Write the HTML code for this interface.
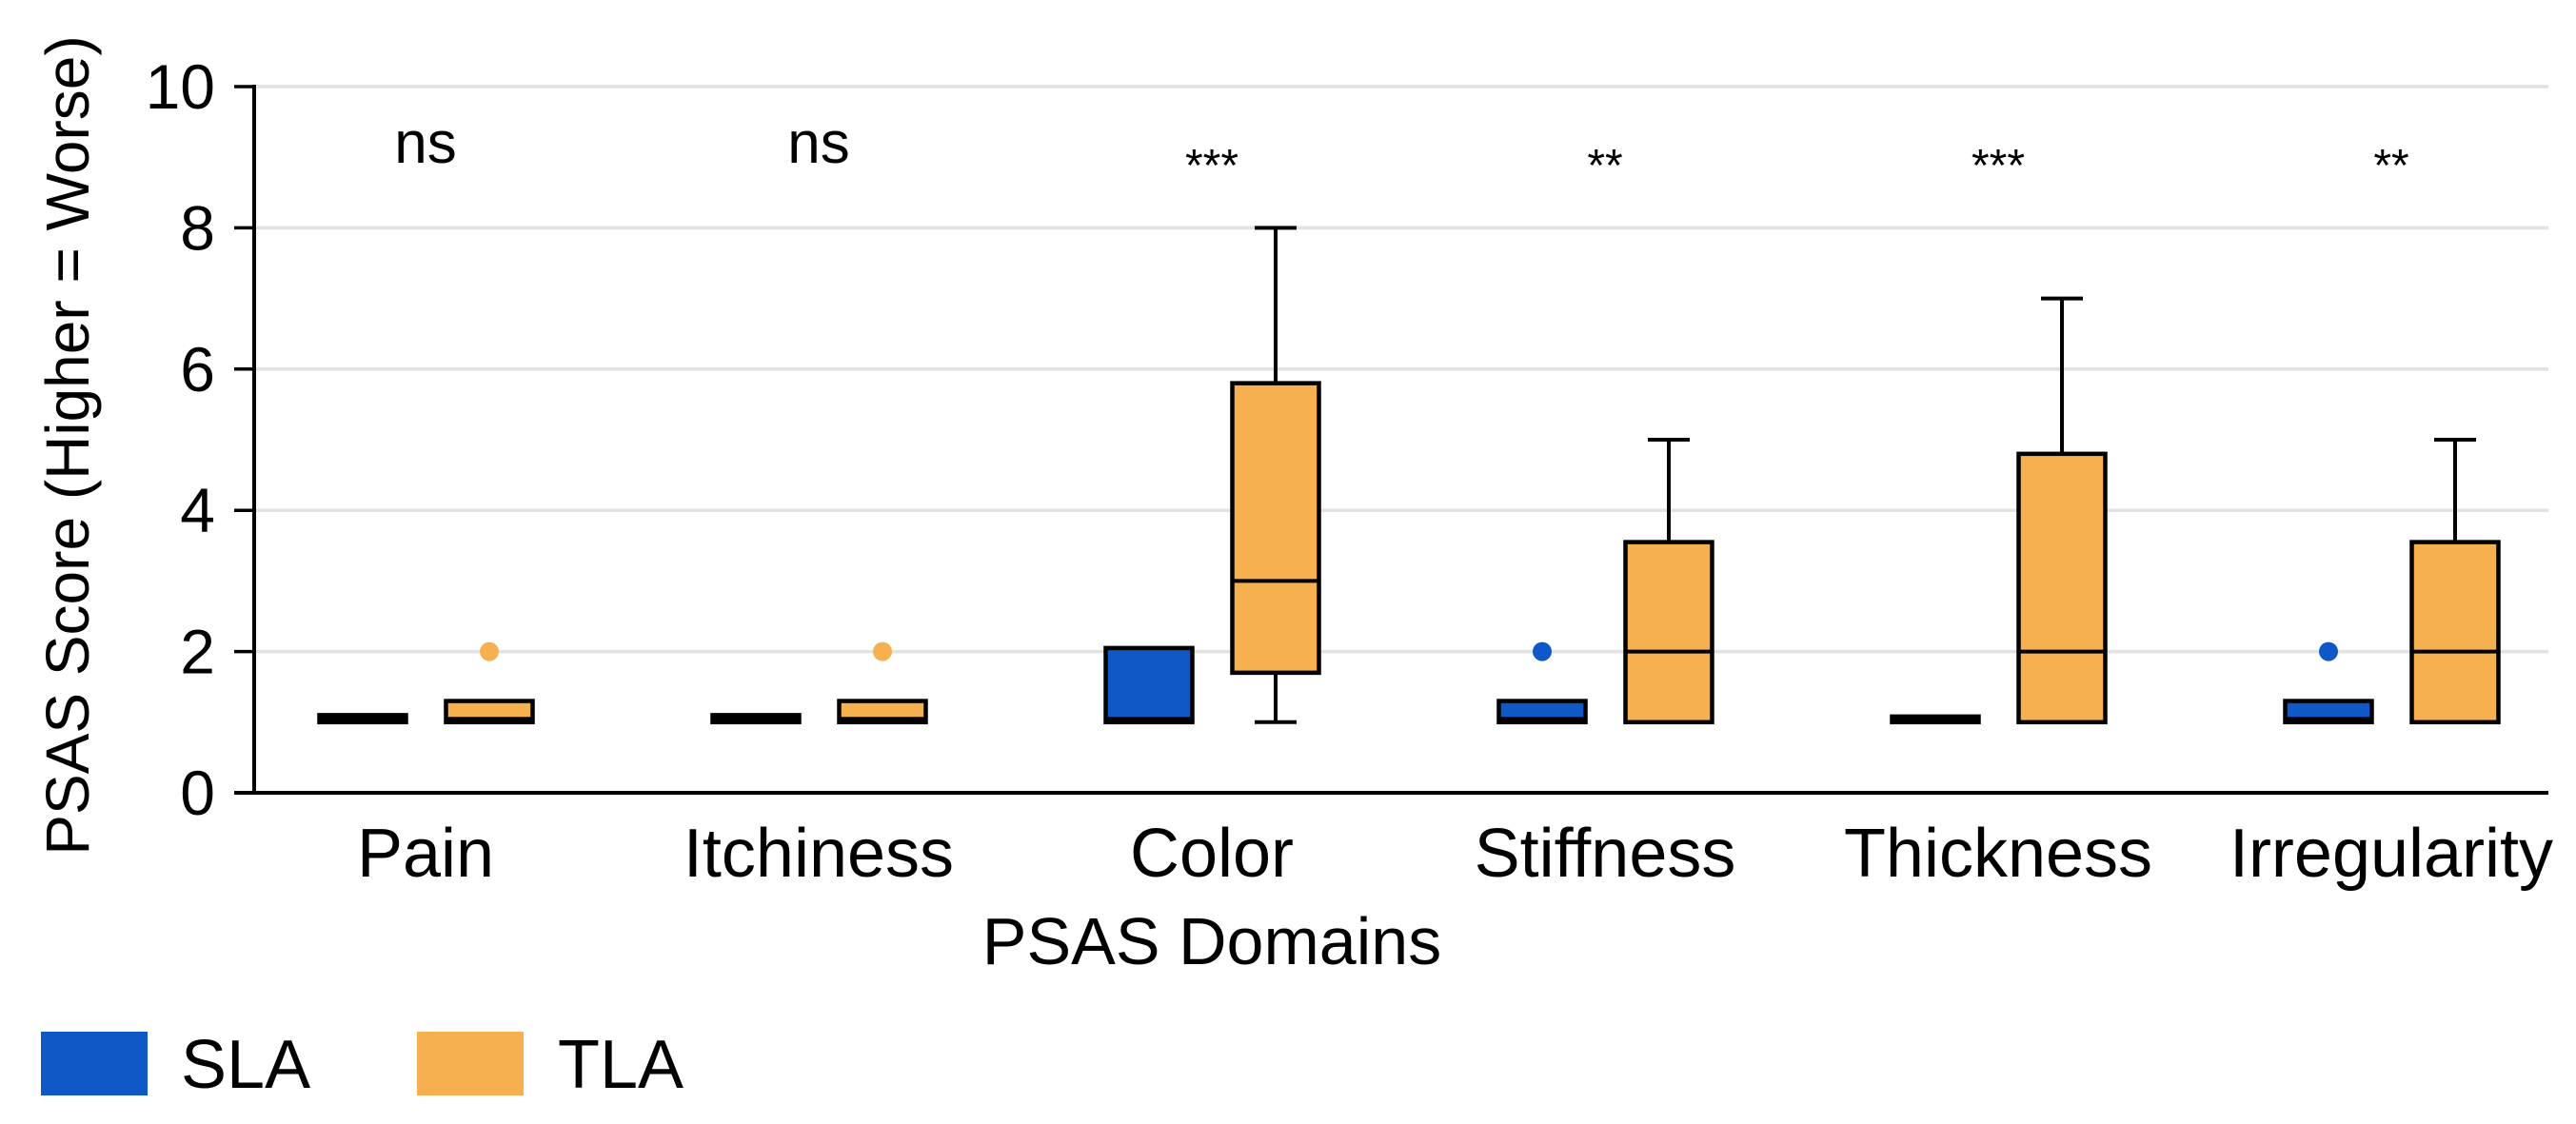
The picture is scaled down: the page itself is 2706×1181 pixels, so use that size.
<!DOCTYPE html>
<html><head><meta charset="utf-8"><style>
html,body{margin:0;padding:0;background:#fff;}
svg text{font-family:"Liberation Sans",sans-serif;fill:#000;}
</style></head><body>
<svg id="chart" width="2706" height="1176" viewBox="0 0 2706 1176" xmlns="http://www.w3.org/2000/svg">
<g id="grid"></g>
<g id="yaxis"></g>
<g id="boxes"></g>
<g id="xaxis"></g>
<text x="0" y="0" transform="translate(93,468) rotate(-90)" text-anchor="middle" font-size="64">PSAS Score (Higher = Worse)</text>
<text x="1273" y="1013" text-anchor="middle" font-size="70">PSAS Domains</text>
<g>
<rect x="43" y="1084" width="112" height="67" fill="#0e58c8"/>
<text x="190" y="1143" font-size="72">SLA</text>
<rect x="438" y="1084" width="112" height="67" fill="#f6b04f"/>
<text x="586" y="1143" font-size="72">TLA</text>
</g>
</svg>
<script>
const categories = ["Pain","Itchiness","Color","Stiffness","Thickness","Irregularity"];
const significance = ["ns","ns","***","**","***","**"];
const slaQ1 = [1,1,1,1,1,1];
const slaMed = [1,1,1,1,1,1];
const slaQ3 = [1.1,1.1,2.05,1.3,1.08,1.3];
const slaLow = [1,1,1,1,1,1];
const slaHigh = [1.1,1.1,2.05,1.3,1.08,1.3];
const slaOutliers = [[],[],[],[2],[],[2]];
const tlaQ1 = [1,1,1.7,1,1,1];
const tlaMed = [1,1,3,2,2,2];
const tlaQ3 = [1.3,1.3,5.8,3.55,4.8,3.55];
const tlaLow = [1,1,1,1,1,1];
const tlaHigh = [1.3,1.3,8,5,7,5];
const tlaOutliers = [[2],[2],[],[],[],[]];
const yTicks = [0,2,4,6,8,10];

const NS="http://www.w3.org/2000/svg";
const y=v=>833-v*74.2;
const xc=i=>447+i*413;
function mk(parent,tag,attrs){const e=document.createElementNS(NS,tag);for(const k in attrs)e.setAttribute(k,attrs[k]);parent.appendChild(e);return e;}
const grid=document.getElementById('grid'),ya=document.getElementById('yaxis'),bx=document.getElementById('boxes'),xa=document.getElementById('xaxis');
yTicks.forEach(t=>{
  if(t>0){const g=mk(grid,'line',{x1:267,x2:2677,y1:y(t),y2:y(t),stroke:'#e2e2e2','stroke-width':3.5});
  
  }
  const tk=mk(ya,'line',{x1:246,x2:267,y1:y(t),y2:y(t),stroke:'#000','stroke-width':3.5});
  
  
  const tl=mk(ya,'text',{x:226,y:y(t)+23,'text-anchor':'end','font-size':66});
  tl.textContent=t;
  
  
});
const yl=mk(ya,'line',{x1:267,x2:267,y1:y(10)-2,y2:y(0)+2,stroke:'#000','stroke-width':4});


const xl=mk(xa,'line',{x1:246,x2:2677,y1:y(0),y2:y(0),stroke:'#000','stroke-width':4});



function drawBox(cx,q1,med,q3,lo,hi,outs,color,name){
  const w=91;
  const g=mk(bx,'g',{});
  
  
  if(hi>q3){mk(g,'line',{x1:cx,x2:cx,y1:y(hi),y2:y(q3),stroke:'#000','stroke-width':4});
    mk(g,'line',{x1:cx-22,x2:cx+22,y1:y(hi),y2:y(hi),stroke:'#000','stroke-width':4});}
  if(lo<q1){mk(g,'line',{x1:cx,x2:cx,y1:y(q1),y2:y(lo),stroke:'#000','stroke-width':4});
    mk(g,'line',{x1:cx-22,x2:cx+22,y1:y(lo),y2:y(lo),stroke:'#000','stroke-width':4});}
  const h=y(q1)-y(q3);
  mk(g,'rect',{x:cx-w/2,y:y(q3),width:w,height:Math.max(h,1),fill:h<10?'#000':color,stroke:'#000','stroke-width':4.5});
  mk(g,'line',{x1:cx-w/2,x2:cx+w/2,y1:y(med)-(med===q1?2:0),y2:y(med)-(med===q1?2:0),stroke:'#000','stroke-width':med===q1?7:4});
  outs.forEach(o=>mk(g,'circle',{cx:cx,cy:y(o),r:10,fill:color}));
}
categories.forEach((c,i)=>{
  drawBox(xc(i)-66,slaQ1[i],slaMed[i],slaQ3[i],slaLow[i],slaHigh[i],slaOutliers[i],'#0e58c8','box-sla-'+c.toLowerCase());
  drawBox(xc(i)+67,tlaQ1[i],tlaMed[i],tlaQ3[i],tlaLow[i],tlaHigh[i],tlaOutliers[i],'#f6b04f','box-tla-'+c.toLowerCase());
  const lab=mk(xa,'text',{x:xc(i),y:921,'text-anchor':'middle','font-size':72});
  lab.textContent=c;
  
  
  const s=significance[i];
  const st=mk(bx,'text',{x:xc(i),y:s==='ns'?171:190,'text-anchor':'middle','font-size':s==='ns'?62:48});
  st.textContent=s;
  
  
});
</script>
</body></html>
